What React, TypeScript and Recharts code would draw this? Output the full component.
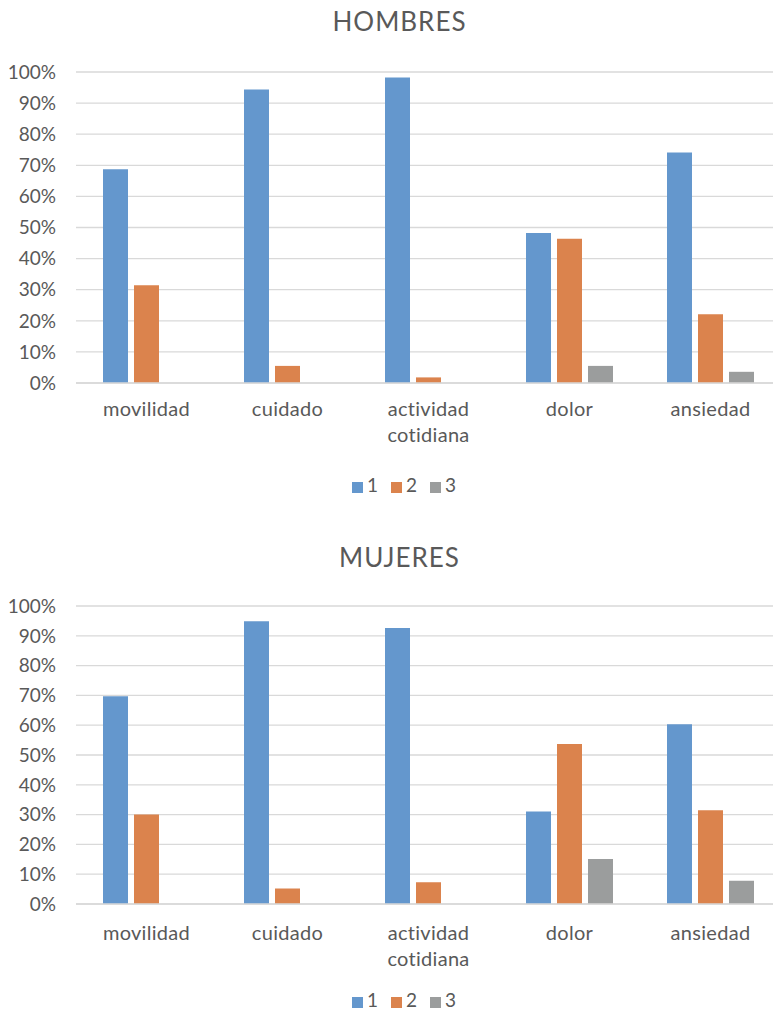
import { BarChart, Bar, XAxis, YAxis, CartesianGrid, Legend } from "recharts";

const categories = ["movilidad", "cuidado", "actividad cotidiana", "dolor", "ansiedad"];

const hombres1 = [0.687, 0.944, 0.982, 0.482, 0.741];
const hombres2 = [0.314, 0.055, 0.018, 0.464, 0.221];
const hombres3 = [0, 0, 0, 0.055, 0.036];

const mujeres1 = [0.697, 0.949, 0.926, 0.31, 0.603];
const mujeres2 = [0.3, 0.052, 0.073, 0.537, 0.315];
const mujeres3 = [0, 0, 0, 0.151, 0.078];

const yTicks = [0, 0.1, 0.2, 0.3, 0.4, 0.5, 0.6, 0.7, 0.8, 0.9, 1];

const seriesNames = ["1", "2", "3"];
const seriesColors = ["#6497cd", "#db834d", "#9b9d9d"];

const TEXT = "#595959";
const GRID = "#d9d9d9";
const FONT = "Lato, 'Open Sans', sans-serif";

function buildRows(s1: number[], s2: number[], s3: number[]) {
  return categories.map((name, i) => ({ name, s1: s1[i], s2: s2[i], s3: s3[i] }));
}

function CategoryTick(props: any) {
  const { x, y, payload, lift } = props;
  const lines = String(payload.value).split(" ");
  return (
    <text
      x={x}
      y={y}
      textAnchor="middle"
      fill={TEXT}
      fontSize={20}
      fontFamily={FONT}
      letterSpacing={0.3}
    >
      {lines.map((ln, i) => (
        <tspan key={i} x={x} dy={i === 0 ? lift : 26}>
          {ln}
        </tspan>
      ))}
    </text>
  );
}

function Panel({ title, rows, top, height, marginTop, marginBottom, xHeight, lift, titleTop }: any) {
  return (
    <div style={{ position: "absolute", left: 0, top, width: 773, height, overflow: "hidden" }}>
      <div
        style={{
          position: "absolute",
          left: 13,
          top: titleTop,
          width: 773,
          textAlign: "center",
          fontSize: 26,
          letterSpacing: 1,
          lineHeight: 1,
          color: TEXT,
          fontFamily: FONT,
        }}
      >
        {title}
      </div>
      <BarChart
        width={773}
        height={height}
        data={rows}
        margin={{ top: marginTop, right: -8, left: 0, bottom: marginBottom }}
        barSize={25}
        barGap={6}
      >
        <CartesianGrid vertical={false} stroke={GRID} strokeWidth={1.3} />
        <XAxis
          dataKey="name"
          height={xHeight}
          tickLine={false}
          axisLine={{ stroke: GRID, strokeWidth: 1.5 }}
          interval={0}
          tick={<CategoryTick lift={lift} />}
        />
        <YAxis
          width={76}
          domain={[0, 1]}
          ticks={yTicks}
          interval={0}
          tickLine={false}
          axisLine={false}
          tickMargin={14}
          tickFormatter={(v: number) => `${Math.round(v * 100)}%`}
          tick={{ fill: TEXT, fontSize: 19, fontFamily: FONT }}
        />
        <Legend
          verticalAlign="bottom"
          iconType="square"
          iconSize={11}
          wrapperStyle={{ fontSize: 19, fontFamily: FONT, lineHeight: "23px", left: 20 }}
          formatter={(value: string) => <span style={{ color: TEXT, marginRight: 3 }}>{value}</span>}
        />
        {["s1", "s2", "s3"].map((key, i) => (
          <Bar
            key={key}
            dataKey={key}
            name={seriesNames[i]}
            fill={seriesColors[i]}
            isAnimationActive={false}
          />
        ))}
      </BarChart>
    </div>
  );
}

export default function App() {
  return (
    <div
      style={{
        position: "absolute",
        left: 0,
        top: 0,
        width: 773,
        height: 1011,
        background: "#ffffff",
        fontFamily: FONT,
      }}
    >
      <Panel
        title="HOMBRES"
        rows={buildRows(hombres1, hombres2, hombres3)}
        top={0}
        height={510}
        marginTop={72}
        marginBottom={14}
        xHeight={90}
        lift={25}
        titleTop={8}
      />
      <Panel
        title="MUJERES"
        rows={buildRows(mujeres1, mujeres2, mujeres3)}
        top={530}
        height={481}
        marginTop={76}
        marginBottom={0}
        xHeight={84}
        lift={28}
        titleTop={14}
      />
    </div>
  );
}
